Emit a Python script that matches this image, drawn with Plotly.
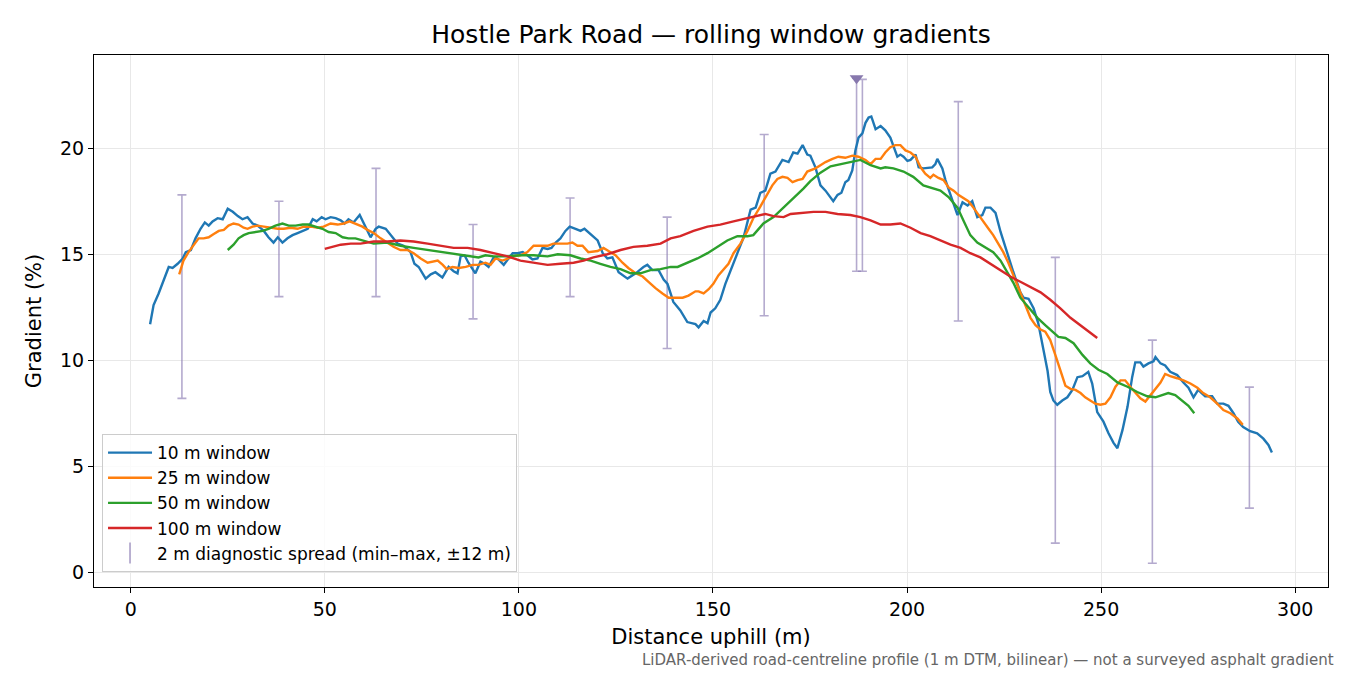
import plotly.graph_objects as go

# 10 m rolling window
dist_10 = [5.0, 5.9, 7.2, 8.5, 9.8, 10.8, 12.1, 13.4, 14.2, 15.5, 16.7, 18.0, 19.1, 20.1, 21.1,
           22.4, 23.7, 25.0, 26.3, 27.6, 28.8, 30.1, 31.4, 32.7, 34.3, 35.5, 36.8, 37.9, 39.1,
           40.4, 41.7, 43.0, 44.3, 45.6, 46.9, 47.9, 49.2, 50.2, 51.5, 52.8, 54.1, 55.1, 56.1,
           57.4, 59.0, 60.0, 61.0, 61.8, 63.1, 63.9, 65.7, 67.0, 68.8, 70.3, 72.1, 73.1, 74.2,
           76.0, 77.3, 78.5, 80.3, 81.9, 83.2, 84.2, 85.0, 86.0, 87.0, 88.8, 90.1, 91.2, 92.2,
           93.5, 94.5, 96.1, 97.1, 98.4, 99.7, 101.0, 102.2, 103.5, 104.8, 106.1, 107.4, 108.4,
           109.5, 110.7, 112.0, 113.1, 114.6, 115.9, 116.9, 117.9, 119.2, 120.3, 121.6, 122.8,
           124.1, 125.7, 128.0, 130.1, 132.1, 133.1, 134.4, 136.0, 137.3, 138.3, 139.8, 141.6,
           143.4, 145.5, 146.3, 147.6, 148.6, 149.4, 150.6, 151.9, 153.2, 155.0, 156.3, 157.9,
           159.7, 161.0, 162.2, 163.5, 164.8, 166.1, 167.9, 169.5, 170.7, 171.8, 173.1, 174.3,
           175.1, 176.4, 177.7, 179.0, 180.3, 181.0, 182.1, 183.1, 184.1, 184.9, 185.9, 186.7,
           187.5, 188.5, 189.3, 190.1, 190.8, 191.9, 193.2, 194.4, 195.7, 196.5, 197.5, 198.3,
           199.1, 200.1, 200.9, 202.2, 203.0, 204.2, 206.5, 207.3, 207.8, 209.1, 209.9, 211.2,
           213.0, 214.3, 215.6, 216.8, 218.1, 219.4, 220.2, 221.5, 222.8, 224.1, 225.9, 227.4,
           229.2, 230.0, 231.3, 232.6, 233.8, 235.1, 236.2, 236.9, 237.7, 238.7, 240.0, 241.3,
           242.6, 243.9, 245.2, 246.7, 247.7, 249.0, 250.6, 251.9, 253.2, 254.2, 255.5, 256.8,
           258.0, 258.8, 260.1, 260.9, 262.2, 263.5, 264.0, 265.3, 266.5, 267.8, 269.6, 271.2,
           272.5, 273.8, 275.0, 276.8, 278.6, 279.9, 281.5, 282.8, 284.1, 285.3, 286.6, 288.4,
           290.2, 291.8, 293.1, 294.0]
grad_10 = [11.7, 12.6, 13.15, 13.8, 14.4, 14.35, 14.55, 14.8, 15.1, 15.2, 15.75, 16.2, 16.5, 16.35,
           16.55, 16.7, 16.65, 17.15, 17.0, 16.8, 16.65, 16.75, 16.45, 16.35, 16.1, 15.8, 15.55,
           15.8, 15.55, 15.75, 15.9, 16.0, 16.1, 16.2, 16.65, 16.55, 16.75, 16.65, 16.75, 16.7,
           16.6, 16.45, 16.65, 16.5, 16.85, 16.5, 16.1, 15.8, 16.2, 16.3, 16.2, 15.9, 15.5, 15.4,
           15.1, 14.55, 14.4, 13.85, 14.05, 14.15, 13.9, 14.4, 14.2, 14.1, 14.9, 14.95, 14.6, 14.1,
           14.65, 14.55, 14.4, 14.85, 14.8, 14.5, 14.75, 15.05, 15.05, 15.1, 14.95, 14.75, 14.8,
           15.3, 15.25, 15.3, 15.55, 15.75, 16.1, 16.3, 16.2, 16.1, 16.2, 16.05, 15.85, 15.65,
           15.05, 14.8, 14.85, 14.15, 13.85, 14.1, 14.4, 14.5, 14.25, 14.25, 13.8, 13.6, 12.75,
           12.35, 11.8, 11.7, 11.55, 11.85, 11.75, 12.25, 12.45, 12.85, 13.6, 14.4, 15.05, 15.8,
           17.1, 17.2, 17.9, 18.0, 18.8, 18.9, 19.45, 19.35, 19.8, 19.75, 20.15, 19.7, 19.65,
           19.1, 18.25, 18.0, 17.65, 17.5, 17.8, 17.9, 18.4, 18.5, 18.95, 19.9, 20.5, 20.7, 21.2,
           21.45, 21.5, 20.9, 21.05, 20.85, 20.5, 20.05, 19.6, 19.7, 19.6, 19.4, 19.45, 19.7,
           19.1, 19.05, 19.1, 19.25, 19.5, 19.05, 18.5, 17.8, 16.85, 17.45, 17.3, 17.5, 16.75,
           16.85, 17.2, 17.2, 16.95, 16.05, 14.95, 14.15, 13.2, 12.95, 12.9, 12.45, 11.75, 10.45,
           9.5, 8.5, 8.1, 7.9, 8.1, 8.25, 8.6, 9.2, 9.25, 9.45, 8.9, 7.55, 7.1, 6.55, 6.1, 5.85,
           6.7, 7.8, 9.2, 9.9, 9.9, 9.7, 9.85, 9.95, 10.15, 9.85, 9.75, 9.45, 9.3, 8.95, 8.7,
           8.25, 8.6, 8.3, 8.3, 7.95, 7.95, 7.85, 7.5, 7.1, 6.85, 6.65, 6.55, 6.3, 6.0, 5.65]

# 25 m rolling window
dist_25 = [12.5, 13.6, 14.9, 16.2, 17.5, 18.8, 20.1, 21.4, 22.7, 24.0, 25.2, 26.5, 27.8, 29.1,
           30.1, 31.4, 32.7, 34.3, 36.1, 37.9, 39.4, 41.2, 43.0, 44.6, 46.4, 48.2, 49.7, 51.5,
           53.3, 54.9, 56.4, 57.9, 59.7, 61.0, 62.6, 64.4, 66.2, 67.7, 69.5, 71.3, 72.9, 74.7,
           76.5, 77.8, 79.1, 80.4, 81.4, 82.9, 84.5, 86.3, 88.1, 89.6, 91.4, 92.7, 94.0, 95.8,
           97.1, 98.6, 100.4, 102.2, 103.8, 105.6, 107.4, 108.9, 110.7, 112.5, 113.8, 115.1,
           116.4, 117.9, 120.3, 121.8, 123.1, 124.9, 126.7, 128.2, 130.1, 131.9, 133.4, 135.2,
           137.0, 138.6, 140.4, 142.2, 143.7, 145.5, 146.3, 147.6, 148.9, 150.1, 151.4, 152.7,
           154.0, 155.3, 157.1, 158.9, 160.4, 162.2, 164.0, 165.3, 166.6, 167.9, 169.2, 170.5,
           171.8, 173.1, 174.3, 176.4, 177.7, 179.0, 180.8, 182.3, 184.1, 185.9, 187.5, 189.3,
           190.6, 191.9, 193.2, 194.4, 195.7, 197.0, 198.3, 199.6, 200.9, 202.2, 203.5, 204.7,
           206.0, 206.8, 208.1, 209.4, 210.7, 212.0, 213.2, 214.5, 215.8, 217.1, 218.4, 219.7,
           221.0, 222.2, 223.5, 224.8, 226.1, 227.4, 228.7, 230.5, 231.8, 233.1, 234.4, 235.6,
           236.9, 238.2, 239.5, 240.8, 242.1, 243.4, 244.7, 245.9, 247.2, 248.5, 249.8, 251.1,
           252.4, 253.7, 255.0, 256.2, 257.5, 258.8, 260.1, 261.4, 262.7, 264.0, 265.3, 266.5,
           267.8, 269.6, 271.2, 273.0, 274.8, 276.3, 278.1, 279.9, 281.5, 283.3, 285.1, 286.5]
grad_25 = [14.05, 14.7, 15.1, 15.4, 15.75, 15.75, 15.8, 15.95, 16.1, 16.15, 16.35, 16.45, 16.4,
           16.25, 16.2, 16.3, 16.35, 16.3, 16.25, 16.2, 16.2, 16.25, 16.2, 16.3, 16.3, 16.25,
           16.3, 16.45, 16.4, 16.45, 16.55, 16.45, 16.3, 16.15, 16.0, 15.75, 15.55, 15.35, 15.2,
           15.2, 15.05, 14.8, 14.6, 14.65, 14.7, 14.5, 14.3, 14.4, 14.35, 14.4, 14.5, 14.5, 14.6,
           14.5, 14.8, 14.7, 14.8, 14.9, 14.95, 15.1, 15.4, 15.4, 15.4, 15.5, 15.5, 15.5, 15.55,
           15.4, 15.4, 15.1, 15.15, 15.3, 15.15, 14.95, 14.6, 14.35, 14.1, 13.95, 13.7, 13.4,
           13.15, 12.95, 12.95, 12.95, 13.05, 13.25, 13.25, 13.15, 13.35, 13.6, 14.0, 14.25,
           14.55, 15.05, 15.5, 16.1, 16.7, 17.25, 17.85, 18.25, 18.55, 18.65, 18.6, 18.4, 18.5,
           18.55, 18.9, 19.05, 19.2, 19.35, 19.5, 19.6, 19.55, 19.65, 19.6, 19.45, 19.25, 19.5,
           19.5, 19.8, 20.05, 20.15, 20.15, 19.9, 19.8, 19.6, 19.1, 18.8, 18.6, 18.75, 18.6,
           18.5, 18.15, 18.0, 17.8, 17.65, 17.5, 17.2, 16.85, 16.5, 16.2, 15.9, 15.5, 15.1, 14.6,
           14.0, 13.4, 12.6, 12.0, 11.65, 11.45, 11.35, 10.95, 10.25, 9.5, 8.8, 8.65, 8.6, 8.45,
           8.25, 8.1, 7.95, 7.9, 7.95, 8.25, 8.75, 9.05, 9.05, 8.75, 8.45, 8.2, 8.05, 8.35, 8.6,
           8.95, 9.35, 9.25, 9.15, 9.05, 8.9, 8.7, 8.45, 8.25, 7.95, 7.65, 7.5, 7.25, 6.95]

# 50 m rolling window
dist_50 = [25.0, 26.5, 27.8, 29.1, 30.4, 32.2, 34.0, 35.5, 37.3, 39.1, 40.7, 42.5, 44.3, 45.8,
           47.6, 49.4, 51.0, 52.8, 54.6, 56.1, 57.9, 59.7, 62.6, 66.2, 69.5, 72.9, 76.5, 79.8,
           83.2, 86.8, 89.6, 91.4, 93.5, 97.1, 100.4, 103.8, 107.4, 110.0, 113.3, 115.9, 118.5,
           121.0, 123.6, 126.2, 128.8, 131.3, 133.9, 136.5, 139.1, 140.9, 143.4, 146.0, 148.6,
           151.2, 153.7, 156.3, 158.9, 160.4, 163.0, 165.6, 168.2, 170.7, 173.3, 175.1, 177.7,
           180.3, 182.8, 185.4, 188.0, 190.6, 193.2, 194.4, 196.5, 199.1, 201.6, 204.2, 206.5,
           208.6, 210.7, 213.0, 214.5, 216.3, 218.1, 220.2, 222.2, 224.1, 225.9, 227.4, 229.2,
           231.3, 233.6, 235.6, 237.7, 239.0, 240.8, 242.9, 245.2, 247.2, 249.3, 251.6, 254.2,
           256.8, 259.3, 261.9, 264.0, 265.8, 267.3, 269.1, 270.9, 272.5, 274.0]
grad_50 = [15.2, 15.45, 15.75, 15.9, 16.0, 16.05, 16.1, 16.2, 16.35, 16.45, 16.35, 16.35, 16.4,
           16.4, 16.3, 16.2, 16.05, 16.0, 15.8, 15.75, 15.75, 15.65, 15.5, 15.55, 15.4, 15.3,
           15.2, 15.1, 15.0, 14.9, 14.85, 14.95, 14.9, 14.9, 14.95, 14.95, 14.9, 15.0, 14.95,
           14.8, 14.7, 14.55, 14.4, 14.3, 14.1, 14.1, 14.25, 14.3, 14.4, 14.4, 14.6, 14.8, 15.05,
           15.35, 15.65, 15.85, 15.85, 15.9, 16.45, 16.75, 17.2, 17.65, 18.1, 18.45, 18.85, 19.15,
           19.25, 19.35, 19.45, 19.2, 19.05, 19.1, 19.05, 18.9, 18.65, 18.25, 18.1, 18.0, 17.7,
           17.2, 16.6, 15.9, 15.55, 15.3, 15.1, 14.7, 14.15, 13.65, 12.95, 12.5, 12.0, 11.65,
           11.3, 11.1, 11.05, 10.8, 10.25, 9.85, 9.55, 9.35, 8.95, 8.75, 8.5, 8.3, 8.25, 8.35,
           8.45, 8.35, 8.1, 7.85, 7.5]

# 100 m rolling window
dist_100 = [50.0, 52.0, 54.1, 56.7, 59.2, 62.6, 66.2, 69.5, 72.9, 76.5, 79.8, 83.2, 86.8, 90.1,
            93.5, 97.1, 100.4, 103.8, 107.4, 110.7, 114.1, 116.7, 119.2, 122.8, 126.2, 129.5,
            133.1, 136.5, 139.1, 141.6, 145.0, 148.6, 151.9, 155.3, 158.9, 161.5, 163.5, 165.6,
            168.2, 170.0, 172.5, 175.9, 179.0, 182.1, 185.4, 188.0, 190.6, 193.2, 195.7, 198.3,
            200.9, 203.5, 206.0, 208.6, 211.2, 213.8, 216.3, 218.9, 221.5, 224.1, 226.6, 229.2,
            231.8, 234.4, 236.9, 239.5, 242.1, 244.7, 247.2, 249.0]
grad_100 = [15.25, 15.35, 15.45, 15.5, 15.5, 15.6, 15.6, 15.65, 15.6, 15.5, 15.4, 15.3, 15.3,
            15.2, 15.05, 14.9, 14.7, 14.6, 14.5, 14.55, 14.6, 14.7, 14.85, 15.0, 15.2, 15.35,
            15.4, 15.5, 15.75, 15.85, 16.1, 16.3, 16.4, 16.55, 16.7, 16.8, 16.9, 16.8, 16.75,
            16.9, 16.95, 17.0, 17.0, 16.9, 16.85, 16.75, 16.6, 16.4, 16.4, 16.45, 16.25, 16.0,
            15.85, 15.65, 15.45, 15.3, 15.05, 14.85, 14.55, 14.25, 13.95, 13.7, 13.45, 13.2,
            12.85, 12.45, 12.0, 11.65, 11.3, 11.05]

# 2 m diagnostic spread (min and max within +-12 m)
spread_x = [13.2, 38.2, 63.2, 88.2, 113.2, 138.2, 163.2, 187.0, 188.5, 213.2, 238.2, 263.2, 288.2]
spread_lo = [8.2, 13.0, 13.0, 11.95, 13.0, 10.55, 12.1, 14.2, 14.2, 11.85, 1.37, 0.42, 3.02]
spread_hi = [17.8, 17.5, 19.05, 16.4, 17.65, 16.75, 20.65, 23.3, 23.25, 22.2, 14.85, 10.95, 8.73]

# steepest point marker
peak_x = [187.0]
peak_y = [23.3]

series = [
    ("10 m window", dist_10, grad_10, "#1f77b4"),
    ("25 m window", dist_25, grad_25, "#ff7f0e"),
    ("50 m window", dist_50, grad_50, "#2ca02c"),
    ("100 m window", dist_100, grad_100, "#d62728"),
]

bar_col = "rgba(140,124,180,0.65)"
font = "DejaVu Sans"

# the page has an 8 px body margin, so the figure is drawn 8 px smaller
W, H = 1342, 667

fig = go.Figure()

mid = [(a + b) / 2 for a, b in zip(spread_lo, spread_hi)]
half = [(b - a) / 2 for a, b in zip(spread_lo, spread_hi)]
fig.add_trace(go.Scatter(
    x=spread_x, y=mid, mode="markers", showlegend=False,
    marker=dict(size=1, color="rgba(0,0,0,0)"),
    error_y=dict(type="data", array=half, color=bar_col, thickness=1.6, width=4.5),
))

for i, (name, xs, ys, col) in enumerate(series):
    fig.add_trace(go.Scatter(x=xs, y=ys, mode="lines", name=name,
                             line=dict(color=col, width=2.4),
                             legendrank=i + 1, legendgroup=name))

# legend entry for the spread bars
fig.add_trace(go.Scatter(
    x=[None], y=[None], mode="markers",
    marker=dict(symbol="line-ns-open", size=15, color=bar_col, line=dict(width=1.8, color=bar_col)),
    name="2 m diagnostic spread (min\u2013max, \u00b112 m)", legendrank=5, legendgroup="e",
))

fig.add_trace(go.Scatter(x=peak_x, y=peak_y, mode="markers", showlegend=False,
                         marker=dict(symbol="triangle-down", size=12, color="#8778ad")))

axis_common = dict(showline=True, linecolor="black", linewidth=1.2, mirror=True,
                   ticks="outside", ticklen=5, tickwidth=1.2, tickcolor="black",
                   showgrid=True, gridcolor="#e8e8e8", gridwidth=1.2, zeroline=False,
                   tickfont=dict(family=font, size=19, color="black"))

fig.update_layout(
    width=W, height=H,
    margin=dict(l=86, r=22, t=47, b=88),
    paper_bgcolor="white", plot_bgcolor="white",
    font=dict(family=font, color="black"),
    title=dict(text="Hostle Park Road \u2014 rolling window gradients",
               xref="paper", x=0.5, xanchor="center", y=1 - 26 / H, yanchor="middle",
               font=dict(family=font, size=25, color="black")),
    xaxis=dict(range=[-9.45, 308.45], tickvals=[0, 50, 100, 150, 200, 250, 300],
               title=dict(text="Distance uphill (m)", font=dict(family=font, size=21), standoff=10),
               **axis_common),
    yaxis=dict(range=[-0.7, 24.4], tickvals=[0, 5, 10, 15, 20],
               title=dict(text="Gradient (%)", font=dict(family=font, size=21), standoff=12),
               **axis_common),
    legend=dict(x=0.0065, y=0.028, xanchor="left", yanchor="bottom",
                bgcolor="rgba(255,255,255,0.8)", bordercolor="#cccccc", borderwidth=1,
                font=dict(family=font, size=17, color="black"),
                tracegroupgap=2, traceorder="normal", itemwidth=44),
    showlegend=True,
)

fig.add_annotation(
    text="LiDAR-derived road-centreline profile (1 m DTM, bilinear) \u2014 not a surveyed asphalt gradient",
    xref="paper", yref="paper", x=1.0065, y=-0.137, xanchor="right", yanchor="middle",
    showarrow=False, font=dict(family=font, size=15, color="#666666"),
)

fig.write_html("out.html")
